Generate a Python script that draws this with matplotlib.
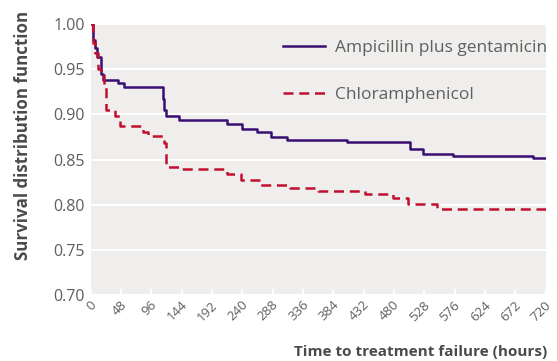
import matplotlib
matplotlib.use("Agg")
import matplotlib.pyplot as plt
from matplotlib import font_manager
from matplotlib.transforms import ScaledTranslation

# ---- data ----
amp_t = [0, 3, 7, 10, 17, 20, 44, 52, 114, 116, 119, 140, 215, 239, 263, 286, 310, 405, 505, 526, 574, 700, 720]
amp_s = [1.0, 0.982, 0.973, 0.964, 0.945, 0.938, 0.935, 0.930, 0.917, 0.905, 0.898, 0.894, 0.889, 0.884, 0.881,
         0.875, 0.872, 0.869, 0.862, 0.856, 0.854, 0.852, 0.852]
chl_t = [0, 3, 7, 12, 17, 21, 25, 38, 46, 83, 90, 116, 119, 145, 216, 238, 268, 315, 360, 434, 478, 502, 548, 720]
chl_s = [1.0, 0.979, 0.968, 0.950, 0.944, 0.932, 0.905, 0.898, 0.887, 0.880, 0.876, 0.868, 0.842, 0.839, 0.834,
         0.827, 0.822, 0.819, 0.815, 0.812, 0.807, 0.801, 0.795, 0.795]
labels = ["Ampicillin plus gentamicin", "Chloramphenicol"]
xticks = list(range(0, 721, 48))
yticks = [0.70, 0.75, 0.80, 0.85, 0.90, 0.95, 1.00]

avail = {f.name for f in font_manager.fontManager.ttflist}
base = "Open Sans" if "Open Sans" in avail else "DejaVu Sans"
narrow = "Liberation Sans Narrow" if "Liberation Sans Narrow" in avail else base
plt.rcParams["font.family"] = [base, "DejaVu Sans"]

purple = "#3a0f73"
red = "#c20f2f"
grey = "#5f5f5f"
bg = "#efeeed"

fig = plt.figure(figsize=(5.57, 3.61), dpi=100)
ax = fig.add_axes([0.1628, 0.1828, 0.8169, 0.7507])
ax.set_facecolor(bg)
for s in ax.spines.values():
    s.set_visible(False)

ax.set_xlim(0, 720)
ax.set_ylim(0.70, 1.00)
ax.set_yticks(yticks)
ax.set_yticklabels([f"{v:.2f}" for v in yticks], color=grey, fontsize=11.5)
ax.set_xticks(xticks)
ax.set_xticklabels([])
ax.tick_params(axis="x", direction="in", color="white", length=4, width=1.2)
ax.tick_params(axis="y", length=0, pad=4)
ax.grid(axis="y", color="white", linewidth=1.5)
ax.set_axisbelow(True)

# rotated x tick labels, right end anchored just right of each tick
off = ScaledTranslation(3.5 / 100, -8 / 100, fig.dpi_scale_trans)
xtr = ax.get_xaxis_transform() + off
for v in xticks:
    ax.text(v, 0, str(v), transform=xtr, rotation=45, ha="right", va="center",
            rotation_mode="anchor", color=grey, fontsize=9.5, clip_on=False)

ax.plot(amp_t, amp_s, drawstyle="steps-post", color=purple, linewidth=1.8, label=labels[0], zorder=3)
ax.plot(chl_t, chl_s, drawstyle="steps-post", color=red, linewidth=1.8, linestyle=(0, (4.0, 2.3)),
        label=labels[1], zorder=3)

leg = ax.legend(loc="upper right", bbox_to_anchor=(1.03, 0.985), frameon=False, fontsize=12.5,
                handlelength=2.4, handletextpad=0.58, labelspacing=1.75, borderaxespad=0.3)
for t in leg.get_texts():
    t.set_color(grey)

fig.text(0.982, 0.006, "Time to treatment failure (hours)", ha="right", va="bottom",
         fontsize=11, fontweight="bold", color="#4a4a4a", family=[narrow, "DejaVu Sans"])
fig.text(0.041, 0.625, "Survival distribution function", ha="center", va="center", rotation=90,
         fontsize=12.2, fontweight="bold", color="#4a4a4a", family=[narrow, "DejaVu Sans"])

fig.savefig("out.png", dpi=100, facecolor="white")
